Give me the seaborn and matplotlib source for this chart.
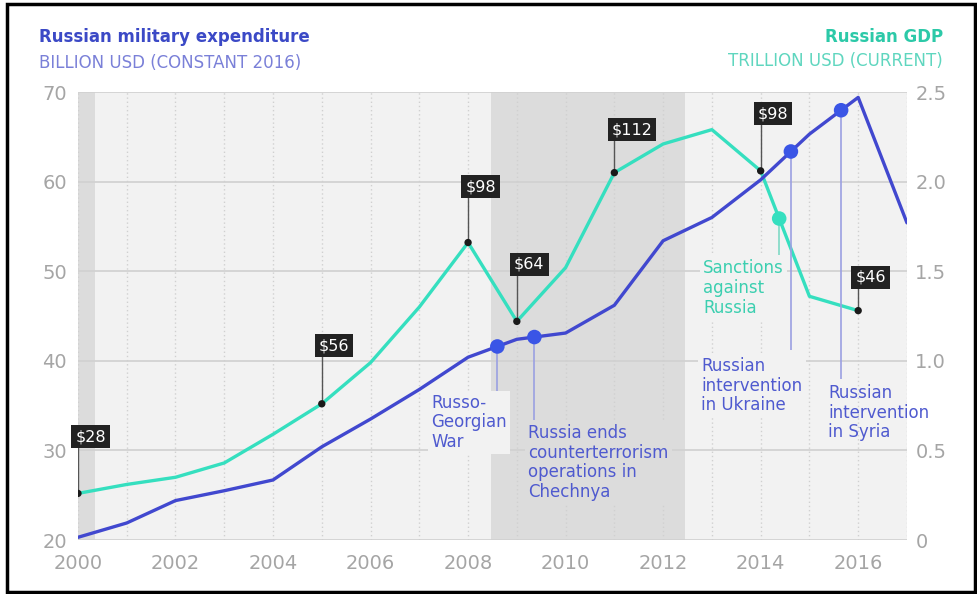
import matplotlib
matplotlib.use("Agg")
import matplotlib.pyplot as plt
import numpy as np
import seaborn as sns
from matplotlib.patches import Rectangle

# data
years = list(range(2000, 2018))
military = [20.3, 21.9, 24.4, 25.5, 26.7, 30.4, 33.5, 36.8, 40.4, 42.4,
            43.1, 46.2, 53.4, 56.0, 60.2, 65.3, 69.4, 55.4]
gdp_years = list(range(2000, 2017))
gdp = [0.26, 0.31, 0.35, 0.43, 0.59, 0.76, 0.99, 1.30, 1.66, 1.22,
       1.52, 2.05, 2.21, 2.29, 2.06, 1.36, 1.28]
price_years = [2000, 2005, 2008, 2009, 2011, 2014, 2016]
price_labels = ["\\$28", "\\$56", "\\$98", "\\$64", "\\$112", "\\$98", "\\$46"]
event_years = [2008.6, 2009.36, 2014.62, 2015.65]
event_labels = [
    "Russo-\nGeorgian\nWar",
    "Russia ends\ncounterterrorism\noperations in\nChechnya",
    "Russian\nintervention\nin Ukraine",
    "Russian\nintervention\nin Syria",
]
sanction_year = 2014.38
sanction_label = "Sanctions\nagainst\nRussia"
shade_spans = [(2000, 2000.35), (2008.47, 2012.45)]

# label placement (styling, not data)
price_label_y = [0.576, 1.085, 1.97, 1.54, 2.29, 2.38, 1.465]
event_line_end = [34.3, 33.4, 41.25, 38.0]
event_text_pos = [(2007.24, 36.3), (2009.23, 32.9), (2012.78, 40.4), (2015.38, 37.4)]
event_has_bg = [True, True, True, False]

BLUE = "#4148cf"
BLUE_DOT = "#3a55e6"
BLUE_TEXT = "#4f5acf"
TEAL = "#35dfbf"
TEAL_TEXT = "#3ccfb0"
PLOT_BG = "#f2f2f2"
BAND = "#dcdcdc"
TICK = "#a5a5a5"

sns.set_theme(style="white")
plt.rcParams["font.family"] = ["DejaVu Sans"]

fig = plt.figure(figsize=(9.77, 5.94), dpi=100)
ax = fig.add_axes([0.0798, 0.0909, 0.8485, 0.7542])
axg = ax.twinx()
ax.set_zorder(axg.get_zorder() + 1)
ax.patch.set_visible(False)
axg.patch.set_visible(True)
axg.set_facecolor(PLOT_BG)

for a in (ax, axg):
    for s in a.spines.values():
        s.set_visible(False)
    a.set_xlim(2000, 2017)
ax.set_ylim(20, 70)
axg.set_ylim(0, 2.5)

# background bands and grid
for lo, hi in shade_spans:
    axg.axvspan(lo, hi, color=BAND, lw=0, zorder=0)
for v in np.arange(0, 2.51, 0.5):
    axg.axhline(v, color="#d2d2d2", lw=1.3, zorder=1)
for y in years:
    axg.axvline(y, color="#d0d0d0", lw=1, ls=(0, (1, 2)), zorder=1)

# GDP series
sns.lineplot(x=gdp_years, y=gdp, ax=axg, color=TEAL, lw=2.4, zorder=3)
price_vals = np.interp(price_years, gdp_years, gdp)
for yr, val, ly, lab in zip(price_years, price_vals, price_label_y, price_labels):
    axg.vlines(yr, val, ly, color="#555555", lw=1, zorder=4)
    axg.annotate(lab, (yr, ly), xytext=(-2, 0), textcoords="offset points",
                 ha="left", va="center", color="white", fontsize=11.5, zorder=6,
                 bbox=dict(boxstyle="square,pad=0.25", fc="#222222", ec="none"))
sns.scatterplot(x=price_years, y=price_vals, ax=axg, color="#1a1a1a", s=28,
                edgecolor="none", zorder=5)

sanction_val = np.interp(sanction_year, gdp_years, gdp)
axg.vlines(sanction_year, sanction_val, 1.57, color="#7fd9c5", lw=1.2, zorder=4)
sns.scatterplot(x=[sanction_year], y=[sanction_val], ax=axg, color=TEAL, s=110,
                edgecolor="none", zorder=5)
axg.text(2012.82, 1.57, sanction_label, ha="left", va="top", color=TEAL_TEXT,
         fontsize=12, linespacing=1.15, zorder=6,
         bbox=dict(boxstyle="square,pad=0.2", fc=PLOT_BG, ec="none"))

# military series
sns.lineplot(x=years, y=military, ax=ax, color=BLUE, lw=2.4, zorder=3)
event_vals = np.interp(event_years, years, military)
for yr, val, end, (tx, ty), lab, has_bg in zip(event_years, event_vals, event_line_end,
                                                event_text_pos, event_labels, event_has_bg):
    ax.vlines(yr, end, val, color="#9ba0e2", lw=1.2, zorder=2)
    bg = BAND if shade_spans[1][0] <= tx <= shade_spans[1][1] else PLOT_BG
    box = dict(boxstyle="square,pad=0.2", fc=bg, ec="none") if has_bg else None
    ax.text(tx, ty, lab, ha="left", va="top", color=BLUE_TEXT, fontsize=12,
            linespacing=1.1, zorder=2, bbox=box)
sns.scatterplot(x=event_years, y=event_vals, ax=ax, color=BLUE_DOT, s=110,
                edgecolor="none", zorder=5)

# ticks
ax.set_xticks(range(2000, 2017, 2))
ax.set_yticks(range(20, 71, 10))
axg.set_yticks(np.arange(0, 2.51, 0.5))
axg.set_yticklabels(["0", "0.5", "1.0", "1.5", "2.0", "2.5"])
ax.tick_params(axis="x", length=0, pad=10, labelsize=14, labelcolor=TICK)
ax.tick_params(axis="y", length=0, pad=8, labelsize=14, labelcolor=TICK)
axg.tick_params(axis="y", length=0, pad=6, labelsize=14, labelcolor=TICK)
ax.set_xlabel("")
ax.set_ylabel("")
axg.set_ylabel("")

# titles
fig.text(0.040, 0.938, "Russian military expenditure", ha="left", va="center",
         color="#3b49c6", fontsize=12, fontweight="bold")
fig.text(0.040, 0.894, "BILLION USD (CONSTANT 2016)", ha="left", va="center",
         color="#7a80d8", fontsize=12)
fig.text(0.965, 0.938, "Russian GDP", ha="right", va="center",
         color="#2cc9a8", fontsize=12, fontweight="bold")
fig.text(0.965, 0.897, "TRILLION USD (CURRENT)", ha="right", va="center",
         color="#5fd6bf", fontsize=12)

fig.add_artist(Rectangle((0.0072, 0.0034), 0.991, 0.990, transform=fig.transFigure,
                         fill=False, lw=2.5, ec="black"))

fig.savefig("out.png", dpi=100)
